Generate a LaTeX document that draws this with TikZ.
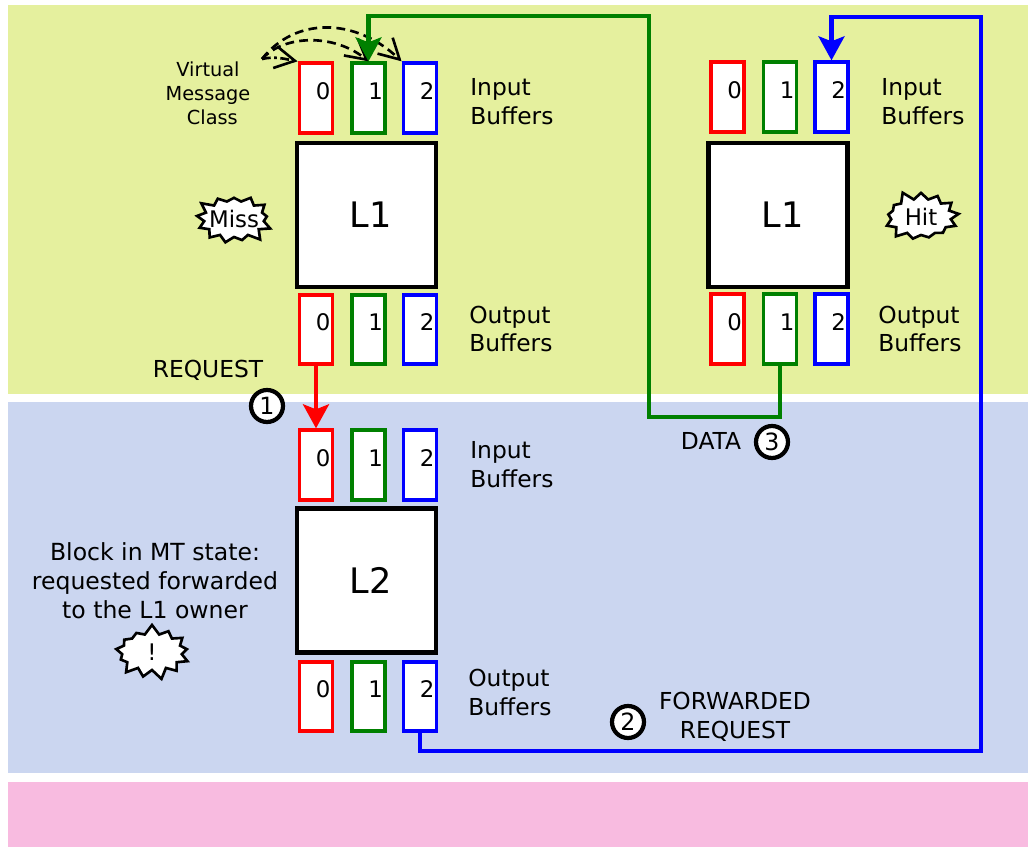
\documentclass[tikz,border=0pt]{standalone}
\usepackage{fontspec}
\setmainfont{DejaVu Sans}
\definecolor{cohgreen}{HTML}{E5F09E}
\definecolor{cohblue}{HTML}{CBD6F0}
\definecolor{cohpink}{HTML}{F8BBE0}
\definecolor{vcgreen}{RGB}{0,128,0}
\usetikzlibrary{arrows.meta,positioning,shapes.symbols}

\begin{document}
\begin{tikzpicture}[x=0.02cm, y=-0.02cm,
    buf/.style={draw, line width=2.2pt, fill=white, minimum width=0.66cm, minimum height=1.39cm,
                text width=0.58cm, inner xsep=0.04cm, inner ysep=0pt, align=right,
                text height=9.5pt, text depth=8pt, font=\fontsize{13}{15}\selectfont},
    cache/.style={draw=black, line width=2.4pt, fill=white, minimum width=2.78cm, minimum height=2.88cm,
                  font=\fontsize{20}{24}\selectfont},
    lbl/.style={align=left, anchor=west, inner sep=0pt, font=\fontsize{13.3}{16.5}\selectfont},
    txt/.style={align=center, inner sep=0pt, font=\fontsize{13.3}{16.5}\selectfont},
    stepnum/.style={circle, draw=black, line width=2.4pt, fill=white, minimum size=0.64cm, inner sep=0pt,
                    font=\fontsize{13.5}{15}\selectfont},
    burst/.style={starburst, starburst points=13, starburst point height=0.2cm, draw=black, line width=1.5pt,
                  fill=white, inner sep=0pt, minimum width=1.6cm, minimum height=1.12cm,
                  font=\fontsize{13}{15}\selectfont},
    conn/.style={line width=2.3pt, -{Stealth[length=0.48cm, width=0.52cm, inset=0.1cm]}},
    vmc/.style={line width=1.5pt, -{Straight Barb[length=0.4cm, width=0.44cm]}}
  ]
    \useasboundingbox (0,0) rectangle (1028,847);

    % Coherence levels
    \fill[cohgreen] (8,5) rectangle (1028,394);
    \fill[cohblue] (8,402) rectangle (1028,773);
    \fill[cohpink] (8,782) rectangle (1028,847);

    % Requesting L1
    \node[cache] (reqL) at (366.5,215) {\hspace{5pt}L1};
    \node[buf, draw=red] (reqIn0) at (316,98) {0};
    \node[buf, draw=vcgreen] (reqIn1) at (368.5,98) {1};
    \node[buf, draw=blue] (reqIn2) at (420,98) {2};
    \node[buf, draw=red] (reqOut0) at (316,329.5) {0};
    \node[buf, draw=vcgreen] (reqOut1) at (368.5,329.5) {1};
    \node[buf, draw=blue] (reqOut2) at (420,329.5) {2};
    \node[lbl] (reqInLbl) at (470,102) {Input\\Buffers};
    \node[lbl] (reqOutLbl) at (469,329) {Output\\Buffers};
    \node[burst, random starburst=3] (miss) at (234,219) {\makebox[0pt]{Miss}};
    \node[align=center, inner sep=0pt, font=\fontsize{11}{13.6}\selectfont] (vmcLbl) at (208,93)
      {Virtual\\Message\\\hspace*{5pt}Class};

    % Owner L1
    \node[cache] (ownL) at (778,215) {\hspace{5pt}L1};
    \node[buf, draw=red] (ownIn0) at (727.5,97) {0};
    \node[buf, draw=vcgreen] (ownIn1) at (780,97) {1};
    \node[buf, draw=blue] (ownIn2) at (831.5,97) {2};
    \node[buf, draw=red] (ownOut0) at (727.5,329) {0};
    \node[buf, draw=vcgreen] (ownOut1) at (780,329) {1};
    \node[buf, draw=blue] (ownOut2) at (831.5,329) {2};
    \node[lbl] (ownInLbl) at (881,102) {Input\\Buffers};
    \node[lbl] (ownOutLbl) at (878,329) {Output\\Buffers};
    \node[burst, random starburst=5] (hit) at (921,217) {\makebox[0pt]{Hit}};

    % L2
    \node[cache] (dirL) at (366.5,580.5) {\hspace{5pt}L2};
    \node[buf, draw=red] (dirIn0) at (316,465) {0};
    \node[buf, draw=vcgreen] (dirIn1) at (368.5,465) {1};
    \node[buf, draw=blue] (dirIn2) at (420,465) {2};
    \node[buf, draw=red] (dirOut0) at (316,696.5) {0};
    \node[buf, draw=vcgreen] (dirOut1) at (368.5,696.5) {1};
    \node[buf, draw=blue] (dirOut2) at (420,696.5) {2};
    \node[lbl] (dirInLbl) at (470,465) {Input\\Buffers};
    \node[lbl] (dirOutLbl) at (468,692) {Output\\Buffers};
    \node[txt, font=\fontsize{13.4}{16.5}\selectfont] (mtLbl) at (155,581) {Block in MT state:\\requested forwarded\\to the L1 owner};
    \node[burst, random starburst=7] (warn) at (152,652) {\makebox[0pt]{!}};

    % Step labels
    \node[txt] (reqLbl) at (208,370) {REQUEST};
    \node[stepnum] (one) at (267,406) {1};
    \node[txt] (fwdLbl) at (735,717) {FORWARDED\\REQUEST};
    \node[stepnum] (two) at (628,722) {2};
    \node[txt] (dataLbl) at (711,441) {DATA};
    \node[stepnum] (three) at (772,442) {3};

    % Virtual message class arcs
    \coordinate (vmcStart) at (262,59);
    \draw[vmc, dash pattern=on 5pt off 2pt on 1.5pt off 2pt] (vmcStart) .. controls (275,56) and (285,59) .. (reqIn0.north west);
    \draw[vmc, dash pattern=on 5pt off 3pt] (vmcStart) .. controls (285,34) and (335,34) .. (reqIn1.north);
    \draw[vmc, dash pattern=on 5pt off 3pt] (vmcStart) .. controls (295,17) and (355,17) .. (reqIn2.north west);

    % Request, forwarded request, data
    \coordinate (fwdA) at (981,751);
    \coordinate (fwdB) at (981,17);
    \coordinate (dataA) at (649,417);
    \coordinate (dataB) at (649,16);
    \draw[conn, red] (reqOut0.south) -- (dirIn0.north);
    \draw[conn, blue] (dirOut2.south) |- (fwdA) -- (fwdB) -| (ownIn2.north);
    \draw[conn, vcgreen] (ownOut1.south) |- (dataA) -- (dataB) -| (reqIn1.north);
\end{tikzpicture}
\end{document}
